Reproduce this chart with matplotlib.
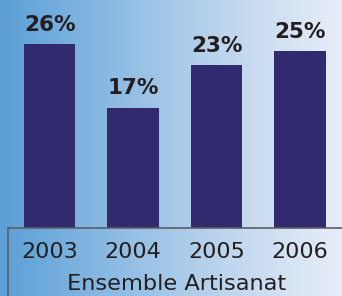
import numpy as np
import matplotlib.pyplot as plt
from matplotlib.colors import LinearSegmentedColormap
from matplotlib.lines import Line2D

plt.rcParams["font.family"] = ["DejaVu Sans"]

# data
years = ["2003", "2004", "2005", "2006"]
rates = [26, 17, 23, 25]
group_label = "Ensemble Artisanat"

W, H, DPI = 342, 296, 100
fig = plt.figure(figsize=(W / DPI, H / DPI), dpi=DPI)

# gradient background
bg = fig.add_axes([0, 0, 1, 1])
cmap = LinearSegmentedColormap.from_list(
    "bg", ["#5B9FD6", "#8DBBE3", "#BFD6EE", "#E8EEF8"])
bg.imshow(np.linspace(0, 1, 256).reshape(1, -1), cmap=cmap,
          aspect="auto", extent=[0, 1, 0, 1])
bg.set_axis_off()

# bar axes: baseline at y=228 px, bar centres ~83.5 px apart
base = (H - 228) / H
ax = fig.add_axes([0, base, 1, 1 - base])
ax.patch.set_alpha(0)
step = 83.5
ax.set_xlim(-49.5 / step, (W - 49.5) / step)
ax.set_ylim(0, 228 * 26 / 184)

x = np.arange(len(years))
bars = ax.bar(x, rates, width=0.62, color="#312A6E", zorder=3)
for xi, v in zip(x, rates):
    ax.annotate(f"{v}%", (xi, v), xytext=(0, 9.5), textcoords="offset points",
                ha="center", va="baseline", fontsize=15.5, fontweight="bold",
                color="#231F20")

for s in ax.spines.values():
    s.set_visible(False)
ax.set_yticks([])
ax.set_xticks(x)
ax.set_xticklabels(years, fontsize=16, color="#231F20")
ax.tick_params(axis="x", length=0, pad=10)

# table-like frame lines
lc = "#5A5E66"
fig.add_artist(Line2D([8 / W, 1], [base, base], color=lc, lw=1.2))
fig.add_artist(Line2D([8 / W, 8 / W], [0, base], color=lc, lw=1.2))

fig.text(0.5 + 6 / W, 6 / H, group_label, ha="center", va="baseline",
         fontsize=16.2, color="#231F20")

fig.savefig("out.png", dpi=DPI)
